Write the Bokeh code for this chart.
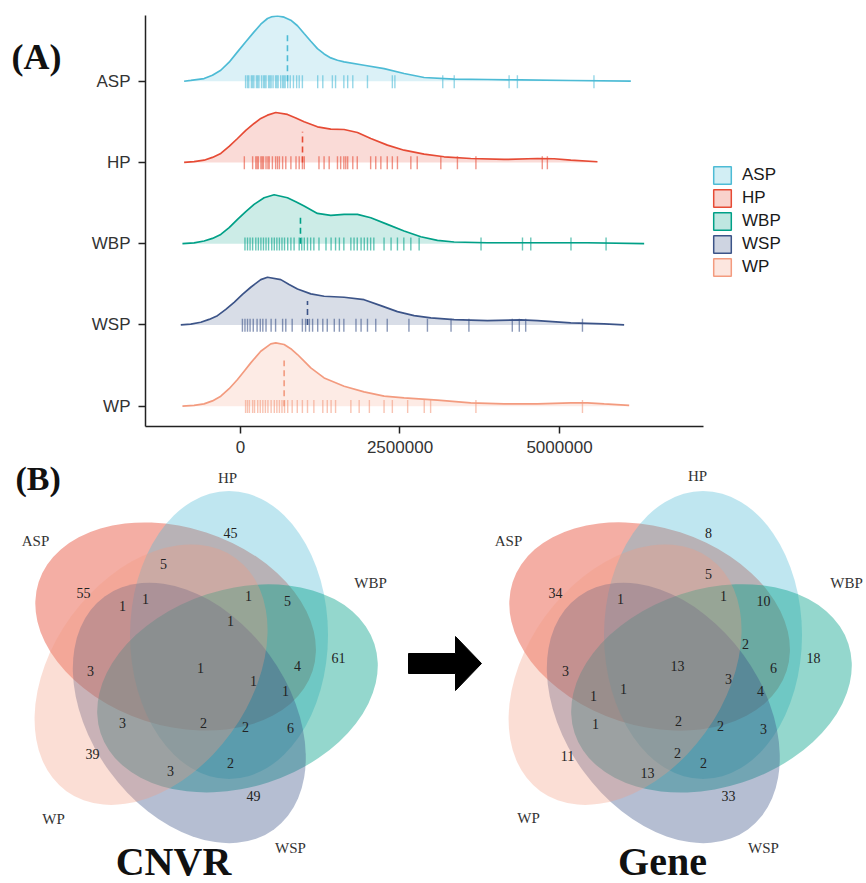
import math
import numpy as np
from bokeh.plotting import figure
from bokeh.models import Range1d, FixedTicker, Legend, LegendItem, LinearAxis
from bokeh.embed import file_html
from bokeh.resources import INLINE
from bokeh.core.properties import value

# ---------------- data: panel A (CNVR length distributions, Mb) ----------------
GROUPS = ["ASP", "HP", "WBP", "WSP", "WP"]
ROWS = [5, 4, 3, 2, 1]
COLORS = ["#4DBBD5", "#E64B35", "#00A087", "#3C5488", "#F39B7F"]

ASP_X = [-0.884, -0.779, -0.571, -0.44, -0.309, -0.178, -0.047, 0.083, 0.213, 0.318, 0.423, 0.50,
         0.580, 0.684, 0.788, 0.893, 0.997, 1.102, 1.206, 1.311, 1.415, 1.520, 1.624, 1.937, 2.251,
         2.564, 2.878, 3.348, 3.871, 4.393, 5.177, 6.118]
ASP_H = [0, 0.010, 0.033, 0.074, 0.135, 0.234, 0.361, 0.486, 0.607, 0.702, 0.772, 0.796, 0.804,
         0.788, 0.751, 0.683, 0.587, 0.492, 0.402, 0.336, 0.287, 0.258, 0.238, 0.197, 0.156, 0.095,
         0.046, 0.025, 0.021, 0.016, 0.009, 0]
HP_X = [-0.884, -0.728, -0.571, -0.44, -0.309, -0.178, -0.047, 0.083, 0.213, 0.318, 0.423, 0.553,
        0.736, 0.867, 0.997, 1.206, 1.415, 1.624, 1.833, 2.042, 2.303, 2.564, 2.878, 3.191, 3.609,
        4.131, 4.654, 4.915, 5.177, 5.595]
HP_H = [0, 0.010, 0.028, 0.062, 0.111, 0.197, 0.295, 0.394, 0.480, 0.542, 0.582, 0.615, 0.591,
        0.548, 0.501, 0.439, 0.410, 0.406, 0.369, 0.295, 0.213, 0.151, 0.102, 0.070, 0.049, 0.037,
        0.049, 0.046, 0.028, 0.009]
WBP_X = [-0.910, -0.728, -0.571, -0.44, -0.309, -0.178, -0.047, 0.083, 0.213, 0.370, 0.527, 0.736,
         0.867, 0.997, 1.206, 1.415, 1.624, 1.833, 2.042, 2.303, 2.564, 2.826, 3.087, 3.348, 3.871,
         4.654, 5.438, 6.327]
WBP_H = [0, 0.010, 0.033, 0.065, 0.114, 0.197, 0.299, 0.394, 0.484, 0.566, 0.603, 0.566, 0.517,
         0.464, 0.373, 0.348, 0.361, 0.361, 0.320, 0.238, 0.156, 0.086, 0.041, 0.021, 0.012, 0.012,
         0.012, 0]
WSP_X = [-0.936, -0.779, -0.622, -0.492, -0.361, -0.230, -0.100, 0.031, 0.161, 0.318, 0.423, 0.632,
         0.762, 0.893, 1.102, 1.311, 1.624, 1.937, 2.199, 2.460, 2.721, 2.983, 3.348, 3.871, 4.393,
         4.654, 5.177, 5.700, 6.013]
WSP_H = [0, 0.011, 0.033, 0.068, 0.114, 0.191, 0.279, 0.375, 0.464, 0.558, 0.587, 0.558, 0.498,
         0.443, 0.382, 0.353, 0.341, 0.311, 0.238, 0.164, 0.114, 0.086, 0.065, 0.053, 0.062, 0.053,
         0.025, 0.012, 0]
WP_X = [-0.910, -0.728, -0.571, -0.44, -0.309, -0.178, -0.047, 0.057, 0.161, 0.318, 0.475, 0.553,
        0.684, 0.788, 0.893, 0.997, 1.102, 1.311, 1.624, 1.937, 2.251, 2.564, 3.087, 3.609, 4.131,
        4.654, 5.177, 5.438, 5.700, 6.092]
WP_H = [0, 0.010, 0.028, 0.065, 0.123, 0.215, 0.329, 0.431, 0.533, 0.677, 0.767, 0.779, 0.759,
        0.708, 0.636, 0.554, 0.471, 0.348, 0.246, 0.176, 0.123, 0.102, 0.074, 0.041, 0.028, 0.028,
        0.041, 0.041, 0.028, 0.009]

ASP_RUG = [0.08, 0.11, 0.13, 0.17, 0.19, 0.21, 0.25, 0.27, 0.29, 0.33, 0.36, 0.38, 0.40, 0.44, 0.46,
           0.48, 0.51, 0.55, 0.57, 0.59, 0.63, 0.66, 0.68, 0.70, 0.74, 0.78, 0.83, 0.88, 0.92, 0.97,
           1.21, 1.29, 1.44, 1.49, 1.62, 1.68, 1.76, 1.99, 2.38, 2.42, 3.17, 3.35, 4.21, 4.34, 5.54]
HP_RUG = [0.06, 0.19, 0.24, 0.26, 0.28, 0.32, 0.34, 0.36, 0.40, 0.43, 0.45, 0.50, 0.55, 0.58, 0.61,
          0.66, 0.71, 0.79, 0.87, 0.92, 0.97, 1.00, 1.23, 1.31, 1.39, 1.52, 1.57, 1.62, 1.65, 1.68,
          1.76, 1.83, 2.04, 2.12, 2.20, 2.30, 2.38, 2.46, 2.67, 2.77, 3.14, 3.40, 3.69, 4.73, 4.81]
WBP_RUG = [0.07, 0.11, 0.15, 0.19, 0.24, 0.28, 0.32, 0.36, 0.40, 0.44, 0.49, 0.53, 0.57, 0.61, 0.65,
           0.69, 0.74, 0.79, 0.84, 0.92, 0.96, 1.00, 1.05, 1.10, 1.15, 1.23, 1.34, 1.42, 1.49, 1.55,
           1.62, 1.73, 1.78, 1.83, 1.89, 1.94, 1.99, 2.04, 2.09, 2.25, 2.36, 2.46, 2.56, 2.67, 2.80,
           3.77, 4.42, 4.55, 5.18, 5.73]
WSP_RUG = [0.03, 0.07, 0.11, 0.15, 0.20, 0.26, 0.31, 0.35, 0.40, 0.48, 0.55, 0.66, 0.71, 0.81, 0.97,
           1.02, 1.08, 1.13, 1.21, 1.29, 1.36, 1.47, 1.55, 1.62, 1.81, 1.89, 1.99, 2.12, 2.30, 2.64,
           2.93, 3.30, 3.58, 4.26, 4.37, 4.47, 5.36]
WP_RUG = [0.08, 0.11, 0.14, 0.19, 0.22, 0.27, 0.31, 0.35, 0.39, 0.43, 0.48, 0.53, 0.57, 0.61, 0.65,
          0.69, 0.74, 0.81, 0.89, 0.97, 1.05, 1.15, 1.29, 1.36, 1.42, 1.49, 1.73, 1.86, 2.02, 2.25,
          2.38, 2.62, 2.88, 2.98, 3.69, 5.36]
MEDIANS = [0.736, 0.972, 0.94, 1.05, 0.684]

X_TICKS = [0, 2500000, 5000000]
X_TICK_LABELS = ["0", "2500000", "5000000"]

# ---------------- data: panel B (Venn counts) ----------------
VENN_SETS = ["ASP", "HP", "WBP", "WSP", "WP"]
VENN_COLORS = ["#E64B35", "#4DBBD5", "#00A087", "#3C5488", "#F39B7F"]
VENN_ALPHAS = [0.45, 0.36, 0.42, 0.38, 0.33]
CNVR_COUNTS = ["45", "5", "55", "1", "1", "1", "5", "1", "61", "3", "1", "4", "1", "1", "3", "2",
               "2", "6", "39", "2", "3", "49"]
GENE_COUNTS = ["8", "34", "5", "1", "1", "10", "2", "18", "3", "13", "6", "3", "1", "1", "4", "1",
               "2", "2", "3", "11", "2", "2", "13", "33"]
PANEL_TITLES = ["CNVR", "Gene"]
PANEL_TAGS = ["(A)", "(B)"]

SANS = "Liberation Sans"
SERIF = "Liberation Serif"

# ================= Panel A =================
W = 866
HA = 459
MB = 1e6
PX_PER_MB = 63.8
X0_MB, X1_MB = -1.489, 7.257           # extent of the ggplot panel / x axis
FRAME_L = 145
X_END_MB = X0_MB + (W - FRAME_L) / PX_PER_MB   # frame continues under the legend

pA = figure(width=W, height=HA, x_range=Range1d(X0_MB * MB, X_END_MB * MB),
            y_range=Range1d(0.75, 5.809), output_backend="svg", toolbar_location=None,
            min_border_left=FRAME_L, min_border_right=0, min_border_top=15,
            min_border_bottom=HA - 426)
pA.grid.visible = False
pA.outline_line_color = None

dens = [(ASP_X, ASP_H), (HP_X, HP_H), (WBP_X, WBP_H), (WSP_X, WSP_H), (WP_X, WP_H)]
rugs = [ASP_RUG, HP_RUG, WBP_RUG, WSP_RUG, WP_RUG]

for g, row, col, (dx, dh), rug, med in zip(GROUPS, ROWS, COLORS, dens, rugs, MEDIANS):
    xs = np.array(dx) * MB
    top = row + np.array(dh)
    pA.varea(x=xs, y1=np.full(len(xs), float(row)), y2=top, fill_color=col, fill_alpha=0.2)
    pA.line(x=xs, y=top, line_color=col, line_width=1.7)
    rx = np.array(rug) * MB
    pA.segment(x0=rx, y0=np.full(len(rx), row - 0.085), x1=rx, y1=np.full(len(rx), row + 0.075),
               line_color=col, line_alpha=0.6, line_width=1.4)
    mh = float(np.interp(med, dx, dh))
    pA.segment(x0=[med * MB], y0=[row], x1=[med * MB], y1=[row + 0.74 * mh],
               line_color=col, line_width=1.6, line_dash="6 4")

items = []
for g, col in zip(GROUPS, COLORS):
    r1 = pA.quad(left=[np.nan], right=[np.nan], top=[np.nan], bottom=[np.nan], fill_color=col,
                 fill_alpha=0.25, line_color=col, line_width=1.5)
    items.append(LegendItem(label=g, renderers=[r1]))
legend = Legend(items=items, location=(711 - FRAME_L, 426 - 278), orientation="vertical",
                glyph_width=22, glyph_height=22, spacing=1, padding=0, margin=0,
                label_standoff=9, label_text_font_size="17px", label_text_font=SANS,
                label_text_color="#1a1a1a", border_line_color=None, background_fill_alpha=0)
pA.add_layout(legend, "center")

for ax in (pA.xaxis, pA.yaxis):
    ax.axis_line_color = "#222222"
    ax.axis_line_width = 1.5
    ax.major_tick_line_color = "#222222"
    ax.major_tick_line_width = 1.5
    ax.major_tick_in = 0
    ax.major_tick_out = 7
    ax.minor_tick_line_color = None
    ax.major_label_text_font = SANS
    ax.major_label_text_font_size = "17px"
    ax.major_label_text_color = "#333333"
pA.xaxis.bounds = (X0_MB * MB, X1_MB * MB)
pA.xaxis.ticker = FixedTicker(ticks=X_TICKS)
pA.xaxis.major_label_overrides = {t: s for t, s in zip(X_TICKS, X_TICK_LABELS)}
pA.xaxis.major_label_standoff = 7
pA.yaxis.ticker = FixedTicker(ticks=ROWS)
pA.yaxis.major_label_overrides = {r: g for r, g in zip(ROWS, GROUPS)}
pA.yaxis.major_label_standoff = 8

# panel tag "(A)": an outer left axis carrying a single label
tag_axis = LinearAxis(ticker=FixedTicker(ticks=[5.3]), major_label_overrides={5.3: PANEL_TAGS[0]},
                      axis_line_color=None, major_tick_line_color=None,
                      minor_tick_line_color=None, major_tick_in=0, major_tick_out=0,
                      major_label_standoff=27, major_label_text_font=SERIF,
                      major_label_text_font_style="bold", major_label_text_font_size="36px",
                      major_label_text_color="#111111")
pA.add_layout(tag_axis, "left")

# ================= Panel B =================
HB = 883 - HA
pB = figure(width=W, height=HB, x_range=Range1d(0, W), y_range=Range1d(-883, -HA),
            output_backend="svg", toolbar_location=None, min_border=0,
            x_axis_type=None, y_axis_type=None)
pB.grid.visible = False
pB.outline_line_color = None

# Venn layout (page-pixel coordinates, y negative downward)
VENN_CENTERS = [(196.0, -667.0), (670.0, -667.0)]
V_DIST, V_MAJOR, V_MINOR, V_PHI0, V_TILT = 46.0, 144.0, 99.0, 117.0, 45.0

CNVR_POS = [(230, 532), (163, 563), (83, 592), (122, 605), (145, 598), (248, 595), (287, 600),
            (230, 620), (338, 657), (90, 670), (200, 667), (297, 665), (253, 680), (285, 690),
            (122, 722), (203, 722), (245, 726), (290, 727), (92, 753), (230, 762), (170, 770),
            (253, 795)]
GENE_POS = [(708, 532), (555, 592), (708, 573), (620, 598), (723, 595), (763, 600), (745, 643),
            (813, 657), (565, 670), (677, 665), (773, 667), (728, 678), (593, 695), (623, 688),
            (760, 690), (595, 723), (678, 720), (720, 725), (763, 728), (567, 755), (677, 752),
            (703, 762), (647, 772), (728, 795)]
SETLABEL_POS = [
    [(35, 540), (227, 477), (370, 582), (290, 847), (53, 818)],
    [(508, 540), (697, 475), (846, 582), (763, 847), (528, 817)],
]

for vi, (cx, cy) in enumerate(VENN_CENTERS):
    for i, (s, col, al) in enumerate(zip(VENN_SETS, VENN_COLORS, VENN_ALPHAS)):
        phi = math.radians(V_PHI0 - 72 * i)
        ex = cx + V_DIST * math.cos(phi)
        ey = cy + V_DIST * math.sin(phi)
        pB.ellipse(x=[ex], y=[ey], width=[2 * V_MAJOR], height=[2 * V_MINOR],
                   angle=[phi + math.radians(V_TILT)], fill_color=col, fill_alpha=al,
                   line_color=None)
    lp = SETLABEL_POS[vi]
    pB.text(x=[p[0] for p in lp], y=[-p[1] for p in lp], text=VENN_SETS, text_font=value(SERIF),
            text_font_size="15px", text_align="center", text_baseline="middle",
            text_color="#333333")

for counts, pos in ((CNVR_COUNTS, CNVR_POS), (GENE_COUNTS, GENE_POS)):
    pB.text(x=[p[0] for p in pos], y=[-p[1] for p in pos], text=counts, text_font=value(SERIF),
            text_font_size="14px", text_align="center", text_baseline="middle",
            text_color="#222222")

pB.text(x=[173, 662], y=[-838, -838], text=PANEL_TITLES, text_font=value(SERIF),
        text_font_style="bold", text_font_size="40px", text_align="center",
        text_baseline="top", text_color="#111111")
pB.text(x=[15], y=[-HA], text=[PANEL_TAGS[1]], text_font=value(SERIF), text_font_style="bold",
        text_font_size="34px", text_align="left", text_baseline="top", text_color="#111111")

# arrow between the two diagrams
AX0, AX1, AX2, AYC, SHAFT, HEAD = 408, 455, 481, -663, 10, 27
pB.patch(x=[AX0, AX1, AX1, AX2, AX1, AX1, AX0],
         y=[AYC + SHAFT, AYC + SHAFT, AYC + HEAD, AYC, AYC - HEAD, AYC - SHAFT, AYC - SHAFT],
         fill_color="black", line_color="black")

open("out.html", "w").write(file_html([pA, pB], INLINE))
